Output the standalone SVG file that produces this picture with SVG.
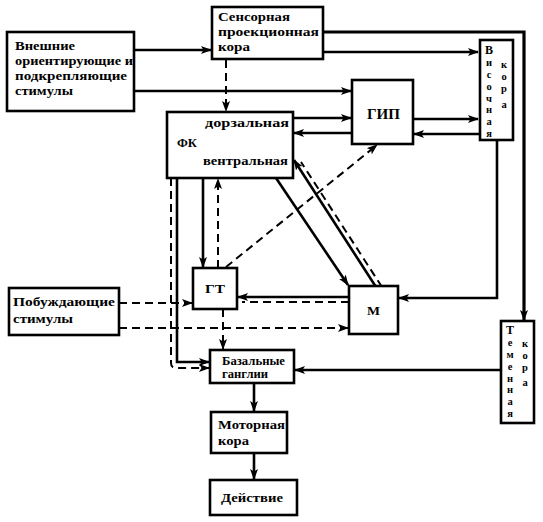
<svg xmlns="http://www.w3.org/2000/svg" width="543" height="522" viewBox="0 0 543 522">
<style>
.box{fill:#fff;stroke:#000;stroke-width:2.6}
.t{font-family:"Liberation Serif","Times New Roman",serif;font-weight:bold;font-size:13px;fill:#000}
.v{font-family:"Liberation Serif","Times New Roman",serif;font-weight:bold;font-size:10.5px;fill:#000;text-anchor:middle}
.vc{font-size:12px}
.s{fill:none;stroke:#000;stroke-width:2.6}
.d{fill:none;stroke:#000;stroke-width:2;stroke-dasharray:8 5}
</style>
<defs>
<marker id="a" markerUnits="userSpaceOnUse" markerWidth="11" markerHeight="8" refX="10" refY="4" orient="auto" viewBox="0 0 11 8">
<path d="M0,0 L11,4 L0,8 L2.5,4 z" fill="#000"/>
</marker>
</defs>
<rect width="543" height="522" fill="#fff"/>
<g id="connectors">
<line class="s" x1="134" y1="50" x2="211" y2="50" marker-end="url(#a)"/>
<line class="s" x1="134" y1="91" x2="351" y2="91" marker-end="url(#a)"/>
<line class="s" x1="323" y1="52" x2="478" y2="52" marker-end="url(#a)"/>
<polyline class="s" style="stroke-width:3.2" points="323,32 524,32 524,320" marker-end="url(#a)"/>
<line class="d" x1="226" y1="60" x2="226" y2="111" marker-end="url(#a)"/>
<line class="s" x1="293" y1="118" x2="351" y2="118" marker-end="url(#a)"/>
<line class="s" x1="352" y1="133" x2="294" y2="133" marker-end="url(#a)"/>
<line class="s" x1="413" y1="119" x2="478" y2="119" marker-end="url(#a)"/>
<line class="s" x1="480" y1="134" x2="414" y2="134" marker-end="url(#a)"/>
<polyline class="s" points="497,140 497,298 399,298" marker-end="url(#a)"/>
<line class="s" x1="501" y1="370" x2="295" y2="370" marker-end="url(#a)"/>
<line class="s" x1="254" y1="383" x2="254" y2="411" marker-end="url(#a)"/>
<line class="s" x1="254" y1="453" x2="254" y2="479" marker-end="url(#a)"/>
<line class="s" x1="203" y1="178" x2="203" y2="267" marker-end="url(#a)"/>
<line class="d" x1="218" y1="268" x2="218" y2="179" marker-end="url(#a)"/>
<line class="d" x1="226" y1="267" x2="377" y2="145" marker-end="url(#a)"/>
<line class="s" x1="276" y1="178" x2="348" y2="285" marker-end="url(#a)"/>
<line class="s" x1="376" y1="287" x2="294" y2="160" marker-end="url(#a)"/>
<line class="d" x1="382" y1="287" x2="301" y2="162"/>
<line class="s" x1="349" y1="297" x2="238" y2="297" marker-end="url(#a)"/>
<line class="d" x1="349" y1="302" x2="242" y2="302"/>
<line class="d" x1="119" y1="303" x2="192" y2="303" marker-end="url(#a)"/>
<line class="d" x1="119" y1="328" x2="348" y2="328" marker-end="url(#a)"/>
<line class="d" x1="223" y1="309" x2="223" y2="349" marker-end="url(#a)"/>
<polyline class="s" points="177,178 177,362 209,362" marker-end="url(#a)"/>
<path class="d" d="M171,178 L171,363 Q171,368 176,368 L209,368" marker-end="url(#a)"/>
</g>
<g id="vneshnie">
<rect class="box" x="7" y="32" width="127" height="79"/>
<text class="t" x="15" y="50" textLength="60" lengthAdjust="spacingAndGlyphs">Внешние</text>
<text class="t" x="15" y="65" textLength="118" lengthAdjust="spacingAndGlyphs">ориентирующие и</text>
<text class="t" x="15" y="80" textLength="112" lengthAdjust="spacingAndGlyphs">подкрепляющие</text>
<text class="t" x="15" y="95" textLength="58" lengthAdjust="spacingAndGlyphs">стимулы</text>
</g>
<g id="sensornaya">
<rect class="box" x="212" y="7" width="111" height="52"/>
<text class="t" x="218" y="21" textLength="72" lengthAdjust="spacingAndGlyphs">Сенсорная</text>
<text class="t" x="218" y="36" textLength="101" lengthAdjust="spacingAndGlyphs">проекционная</text>
<text class="t" x="218" y="51" textLength="32" lengthAdjust="spacingAndGlyphs">кора</text>
</g>
<g id="fk">
<rect class="box" x="167" y="112" width="126" height="66"/>
<text class="t" x="205" y="127" textLength="84" lengthAdjust="spacingAndGlyphs">дорзальная</text>
<text class="t" x="177" y="147" textLength="20" lengthAdjust="spacingAndGlyphs">ФК</text>
<text class="t" x="203" y="165" textLength="85" lengthAdjust="spacingAndGlyphs">вентральная</text>
</g>
<g id="gip">
<rect class="box" x="352" y="80" width="61" height="64"/>
<text class="t" x="367" y="119" style="font-size:14px" textLength="33" lengthAdjust="spacingAndGlyphs">ГИП</text>
</g>
<g id="visochnaya">
<rect class="box" x="480" y="40" width="33" height="100"/>
<text class="v vc" x="489" y="54">В</text>
<text class="v" x="489" y="66.2">и</text>
<text class="v" x="489" y="78">с</text>
<text class="v" x="489" y="89.8">о</text>
<text class="v" x="489" y="101.6">ч</text>
<text class="v" x="489" y="113.4">н</text>
<text class="v" x="489" y="125.2">а</text>
<text class="v" x="489" y="137">я</text>
<text class="v" x="504" y="68">к</text>
<text class="v" x="504" y="80">о</text>
<text class="v" x="504" y="92">р</text>
<text class="v" x="504" y="108">а</text>
</g>
<g id="gt">
<rect class="box" x="193" y="268" width="44" height="41"/>
<text class="t" x="205" y="293" textLength="20" lengthAdjust="spacingAndGlyphs">ГТ</text>
</g>
<g id="m">
<rect class="box" x="349" y="286" width="49" height="48"/>
<text class="t" x="367" y="315" textLength="13" lengthAdjust="spacingAndGlyphs">М</text>
</g>
<g id="pobuzhdayushchie">
<rect class="box" x="9" y="288" width="110" height="47"/>
<text class="t" x="13" y="306" textLength="102" lengthAdjust="spacingAndGlyphs">Побуждающие</text>
<text class="t" x="13" y="323" textLength="60" lengthAdjust="spacingAndGlyphs">стимулы</text>
</g>
<g id="temennaya">
<rect class="box" x="501" y="321" width="33" height="102"/>
<text class="v vc" x="510" y="334">Т</text>
<text class="v" x="510" y="346.2">е</text>
<text class="v" x="510" y="358">м</text>
<text class="v" x="510" y="369.8">е</text>
<text class="v" x="510" y="381.6">н</text>
<text class="v" x="510" y="393.4">н</text>
<text class="v" x="510" y="405.2">а</text>
<text class="v" x="510" y="417">я</text>
<text class="v" x="525" y="347">к</text>
<text class="v" x="525" y="359">о</text>
<text class="v" x="525" y="371">р</text>
<text class="v" x="525" y="386">а</text>
</g>
<g id="bazalnye">
<rect class="box" x="210" y="350" width="84" height="33"/>
<text class="t" x="222" y="365" style="font-size:11.5px" textLength="63" lengthAdjust="spacingAndGlyphs">Базальные</text>
<text class="t" x="222" y="378" style="font-size:11.5px" textLength="46" lengthAdjust="spacingAndGlyphs">ганглии</text>
</g>
<g id="motornaya">
<rect class="box" x="211" y="412" width="76" height="41"/>
<text class="t" x="218" y="429" textLength="67" lengthAdjust="spacingAndGlyphs">Моторная</text>
<text class="t" x="218" y="445" textLength="31" lengthAdjust="spacingAndGlyphs">кора</text>
</g>
<g id="deystvie">
<rect class="box" x="210" y="480" width="87" height="35"/>
<text class="t" x="221" y="502" textLength="62" lengthAdjust="spacingAndGlyphs">Действие</text>
</g>
</svg>
